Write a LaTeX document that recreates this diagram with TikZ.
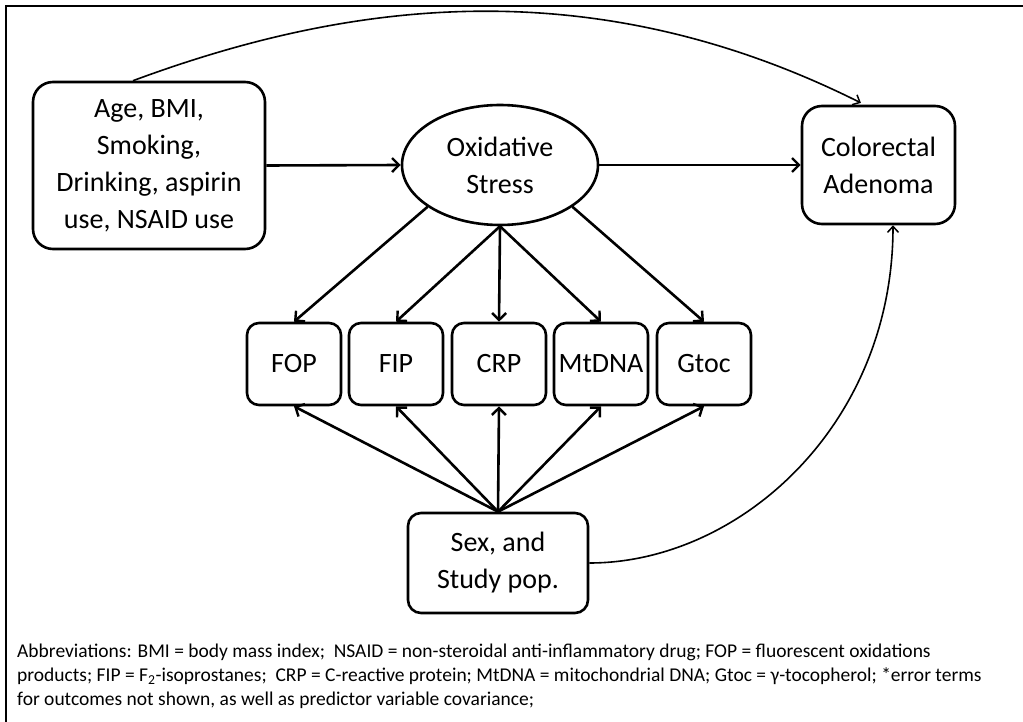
\documentclass[tikz,border=0pt]{standalone}
\usepackage{fontspec}
\setmainfont{Carlito}
\usetikzlibrary{shapes.geometric,arrows.meta}
\tikzset{
  bigtext/.style={font=\fontsize{28}{37}\selectfont, align=center},
  rbox/.style={draw, line width=2.6pt, rounded corners=20pt, inner sep=0pt, bigtext},
  sbox/.style={draw, line width=2.6pt, rounded corners=12pt, inner sep=0pt, bigtext,
               minimum width=94pt, minimum height=82pt},
  oval/.style={draw, ellipse, line width=2.6pt, inner sep=0pt, bigtext,
               minimum width=196pt, minimum height=120pt},
  thickarrow/.style={line width=2.6pt, -{Straight Barb[length=7pt,width=14pt,line width=2.4pt]}},
  thinarrow/.style={line width=1.6pt, -{Straight Barb[length=6pt,width=11pt,line width=1.5pt]}},
  foot/.style={anchor=base west, inner sep=0pt, font=\fontsize{19.5}{24}\selectfont}
}
\begin{document}
\begin{tikzpicture}[x=1pt,y=-1pt]
\useasboundingbox (0,0) rectangle (1023,722);
\fill[white] (0,0) rectangle (1023,722);
\draw[line width=2.2pt] (6,722) -- (6,6) -- (1023,6);

\node[rbox, minimum width=232pt, minimum height=167pt] (age) at (149,165.5)
  {Age, BMI,\\Smoking,\\Drinking, aspirin\\use, NSAID use};
\node[oval] (os) at (500,165) {Oxidative\\Stress};
\node[rbox, minimum width=153pt, minimum height=118pt] (col) at (878.5,165)
  {Colorectal\\Adenoma};

\node[sbox] (fop) at (294,364) {FOP};
\node[sbox] (fip) at (396,364) {FIP};
\node[sbox] (crp) at (499,364) {CRP};
\node[sbox] (mt) at (601,364) {MtDNA};
\node[sbox] (gt) at (704,364) {Gtoc};

\node[rbox, rounded corners=13pt, minimum width=180pt, minimum height=100pt] (sex) at (498,563)
  {Sex, and\\Study pop.};

\draw[thickarrow] (age.east) -- (os.west);
\draw[thickarrow] (os.east) -- (col.west);

\draw[thickarrow] (os.210) -- (fop.north);
\draw[thickarrow] (os.south) -- (fip.north);
\draw[thickarrow] (os.south) -- (crp.north);
\draw[thickarrow] (os.south) -- (mt.north);
\draw[thickarrow] (os.330) -- (gt.north);

\draw[thickarrow] (sex.north) -- (fop.south);
\draw[thickarrow] (sex.north) -- (fip.south);
\draw[thickarrow] (sex.north) -- (crp.south);
\draw[thickarrow] (sex.north) -- (mt.south);
\draw[thickarrow] (sex.north) -- (gt.south);

\draw[thinarrow, shorten >=4pt] ([xshift=-16pt]age.north) .. controls +(204,-75.5) and +(-281,-140.5) .. ([xshift=-14pt]col.north);
\draw[thinarrow] (sex.east) .. controls +(150,0) and +(0,200) .. ([xshift=14.5pt]col.south);

\node[foot] (f1) at (17,657.5) {Abbreviations: BMI = body mass index;\ \ NSAID = non-steroidal anti-inflammatory drug; FOP = fluorescent oxidations};
\node[foot] (f2) at (17,681.5) {products; FIP = F\textsubscript{2}-isoprostanes;\ \ CRP = C-reactive protein; MtDNA = mitochondrial DNA; Gtoc = γ-tocopherol; *error terms};
\node[foot] (f3) at (17,705.5) {for outcomes not shown, as well as predictor variable covariance;};
\end{tikzpicture}
\end{document}
